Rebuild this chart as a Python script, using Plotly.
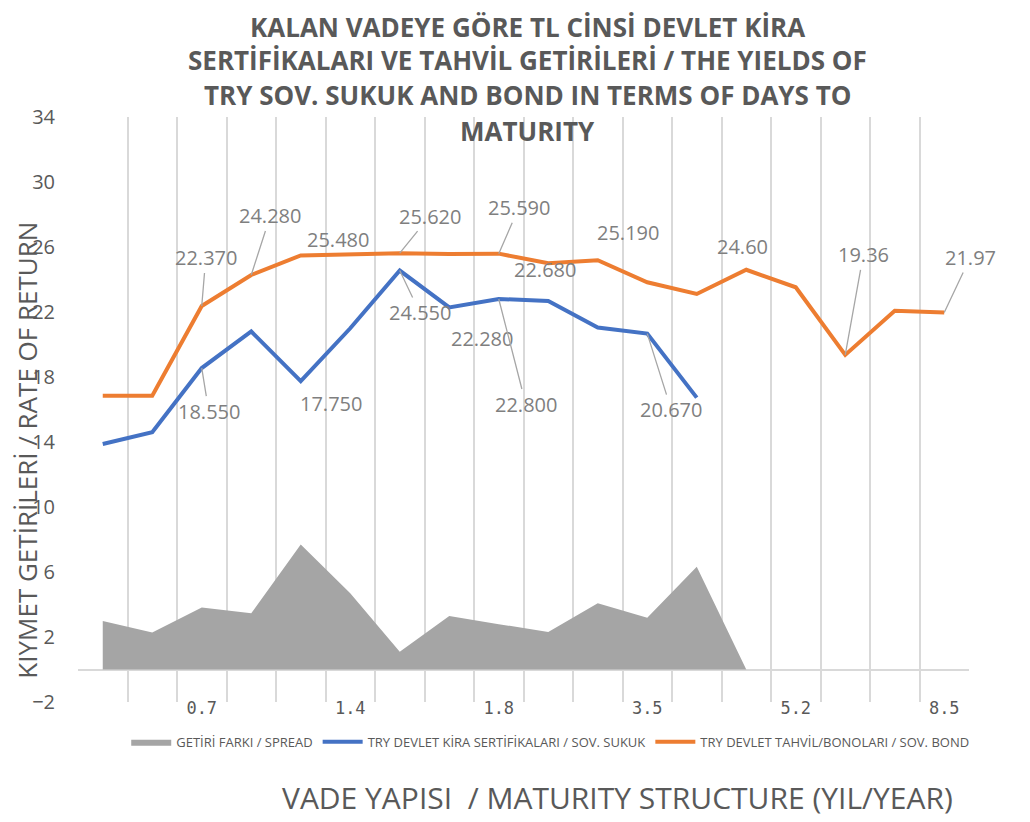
import plotly.graph_objects as go

# ---------------- data ----------------
categories = ["0.1", "0.3", "0.7", "0.9", "1.1", "1.4", "1.5", "1.6", "1.8",
              "2.1", "2.8", "3.5", "4.0", "4.6", "5.2", "6.0", "7.3", "8.5"]
shown_ticks = ["0.7", "1.4", "1.8", "3.5", "5.2", "8.5"]

spread = [2.98, 2.27, 3.81, 3.46, 7.70, 4.69, 1.10, 3.29, 2.79, 2.31, 4.07, 3.19, 6.33, 0.0]
sukuk = [13.88, 14.60, 18.55, 20.80, 17.75, 21.00, 24.55, 22.28, 22.80, 22.68, 21.05, 20.67, 16.73]
bond = [16.85, 16.85, 22.37, 24.28, 25.48, 25.58, 25.62, 25.57, 25.59, 25.00, 25.19, 23.83,
        23.11, 24.60, 23.52, 19.36, 22.08, 21.97]

y_ticks = [-2, 2, 6, 10, 14, 18, 22, 26, 30, 34]

title_lines = ["KALAN VADEYE GÖRE TL CİNSİ DEVLET KİRA",
               "SERTİFİKALARI VE TAHVİL GETİRİLERİ / THE YIELDS OF",
               "TRY SOV. SUKUK AND BOND IN TERMS OF DAYS TO",
               "MATURITY"]

# data labels: (index, decimals, dx, dy, leader)
bond_labels = [(2, 3, 4, -48, True), (3, 3, 19, -59, True), (4, 3, 37, -16, False),
               (6, 3, 30, -37, True), (8, 3, 20, -46, True), (10, 3, 30, -28, False),
               (13, 2, -4, -23, False), (15, 2, 18, -100, True), (17, 2, 26, -55, True)]
sukuk_labels = [(2, 3, 7, 43, True), (4, 3, 30, 22, False), (6, 3, 20, 42, True),
                (7, 3, 33, 31, False), (8, 3, 27, 105, True), (9, 3, -3, -31, False),
                (11, 3, 24, 76, True)]

GRAY_TXT = "#595959"
LABEL_TXT = "#7f7f7f"
FONT = "Open Sans"

fig = go.Figure()
fig.add_trace(go.Scatter(
    x=categories[:len(spread)], y=spread, name="GETİRİ FARKI / SPREAD",
    mode="lines", line=dict(width=0, color="#a5a5a5"), fill="tozeroy",
    fillcolor="#a5a5a5"))
fig.add_trace(go.Scatter(
    x=categories[:len(sukuk)], y=sukuk, name="TRY DEVLET KİRA SERTİFİKALARI / SOV. SUKUK",
    mode="lines", line=dict(width=4, color="#4472c4")))
fig.add_trace(go.Scatter(
    x=categories, y=bond, name="TRY DEVLET TAHVİL/BONOLARI / SOV. BOND",
    mode="lines", line=dict(width=4, color="#ed7d31")))

annotations = []
for series, specs in ((bond, bond_labels), (sukuk, sukuk_labels)):
    for idx, dec, dx, dy, leader in specs:
        txt = f"{series[idx]:.{dec}f}"
        common = dict(x=idx, y=series[idx], xref="x", yref="y", text=txt,
                      font=dict(family=FONT, size=20, color=LABEL_TXT))
        if leader:
            annotations.append(dict(common, showarrow=True, arrowhead=0, arrowwidth=1.3,
                                    arrowcolor="#a6a6a6", ax=dx, ay=dy, standoff=0))
        else:
            annotations.append(dict(common, showarrow=False, xshift=dx, yshift=-dy))

# title lines
title_y = [1.154, 1.098, 1.038, 0.976]
for line, yy in zip(title_lines, title_y):
    annotations.append(dict(
        x=0.505, y=yy, xref="paper", yref="paper", text=f"<b>{line}</b>",
        showarrow=False, xanchor="center", yanchor="middle",
        font=dict(family=FONT, size=26, color=GRAY_TXT)))

# axis titles
annotations.append(dict(
    x=-0.057, y=0.43, xref="paper", yref="paper", text="KIYMET GETİRİLERİ / RATE OF RETURN",
    textangle=-90, showarrow=False, xanchor="center", yanchor="middle",
    font=dict(family=FONT, size=26, color=GRAY_TXT)))
annotations.append(dict(
    x=0.605, y=-0.163, xref="paper", yref="paper", text="VADE YAPISI  / MATURITY STRUCTURE (YIL/YEAR)",
    showarrow=False, xanchor="center", yanchor="middle",
    font=dict(family=FONT, size=30, color=GRAY_TXT)))

# page body has an 8px margin, so the figure is 8px smaller and margins shifted
fig.update_layout(
    width=1022, height=814,
    margin=dict(l=70, r=61, t=109, b=120),
    paper_bgcolor="white", plot_bgcolor="white",
    showlegend=True,
    legend=dict(orientation="h", x=0.53, xanchor="center", y=-0.068, yanchor="middle",
                font=dict(family=FONT, size=13, color=GRAY_TXT),
                itemwidth=40, tracegroupgap=0, bgcolor="rgba(0,0,0,0)"),
    annotations=annotations,
    font=dict(family=FONT, color=GRAY_TXT),
)
fig.update_xaxes(
    type="category", categoryorder="array", categoryarray=categories,
    range=[-0.5, len(categories) - 0.5],
    tickmode="array", tickvals=categories,
    ticktext=[c if c in shown_ticks else "" for c in categories],
    tickson="boundaries", ticks="", showgrid=True, gridcolor="#d9d9d9", gridwidth=1.5,
    showline=False, zeroline=False, ticklabelstandoff=-6,
    tickfont=dict(family="DejaVu Sans Mono", size=17, color=GRAY_TXT),
)
fig.update_yaxes(
    range=[-2, 34], tickmode="array", tickvals=y_ticks,
    showgrid=False, zeroline=True, zerolinecolor="#d9d9d9", zerolinewidth=1.5,
    showline=False, ticks="outside", ticklen=18, tickcolor="rgba(0,0,0,0)",
    tickfont=dict(family=FONT, size=20, color=GRAY_TXT),
)

fig.write_html("out.html")
